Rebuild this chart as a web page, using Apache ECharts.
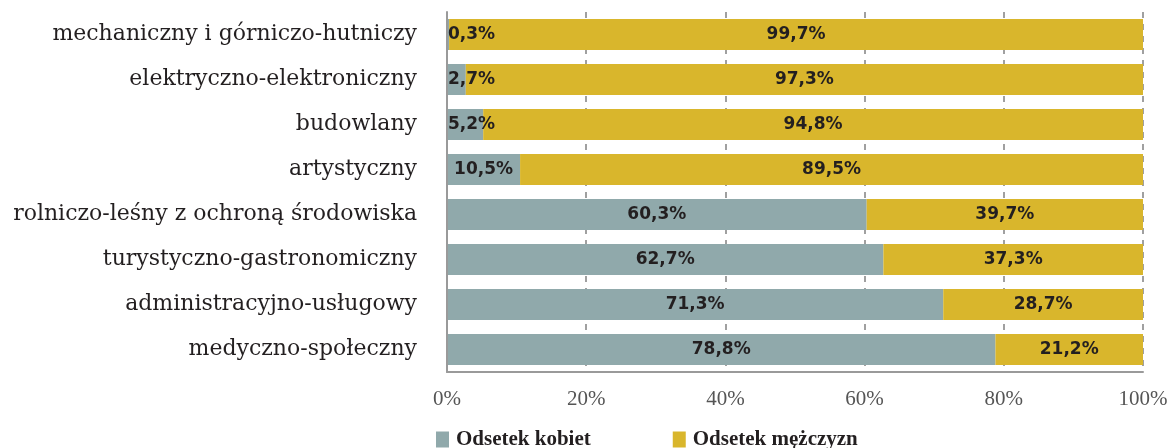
<!DOCTYPE html>
<html>
<head>
<meta charset="utf-8">
<script src="https://cdn.jsdelivr.net/npm/echarts@6/dist/echarts.min.js"></script>
<style>
  html, body { margin: 0; padding: 0; background: #fff; }
  #chart { width: 1175px; height: 448px; }
</style>
</head>
<body>
<div id="chart"></div>
<script>
// categories, top to bottom
const categories = [
  'mechaniczny i górniczo-hutniczy',
  'elektryczno-elektroniczny',
  'budowlany',
  'artystyczny',
  'rolniczo-leśny z ochroną środowiska',
  'turystyczno-gastronomiczny',
  'administracyjno-usługowy',
  'medyczno-społeczny'
];
const women = [0.3, 2.7, 5.2, 10.5, 60.3, 62.7, 71.3, 78.8];
const men = [99.7, 97.3, 94.8, 89.5, 39.7, 37.3, 28.7, 21.2];
const seriesNames = ['Odsetek kobiet', 'Odsetek mężczyzn'];

const colWomen = '#90a9ab';
const colMen = '#d9b62c';
const textDark = '#231f20';

const fmt = v => v.toFixed(1).replace('.', ',') + '%';

const labelBase = {
  show: true,
  color: textDark,
  fontFamily: 'DejaVu Sans',
  fontWeight: 'bold',
  fontSize: 17,
  formatter: p => fmt(p.value)
};

// small shares get their label pinned to the left edge
const womenData = women.map(v => v < 10
  ? { value: v, label: { position: 'insideLeft', distance: 1 } }
  : { value: v });

const chart = echarts.init(document.getElementById('chart'), null, { renderer: 'canvas' });

chart.setOption({
  animation: false,
  grid: { left: 447, right: 32, top: 12, bottom: 76 },
  xAxis: {
    type: 'value',
    min: 0,
    max: 100,
    interval: 20,
    axisLine: { show: true, lineStyle: { color: '#9a9a9a', width: 2 } },
    axisTick: { show: false },
    axisLabel: {
      formatter: v => v + '%',
      color: '#555',
      fontFamily: 'Liberation Serif',
      fontSize: 21,
      margin: 17
    },
    splitLine: { lineStyle: { color: '#a0a0a0', width: 2, type: [6, 6] } }
  },
  yAxis: {
    type: 'category',
    data: categories,
    inverse: true,
    z: 5,
    axisLine: { lineStyle: { color: '#9a9a9a', width: 2 } },
    axisTick: { show: false },
    axisLabel: {
      color: textDark,
      fontFamily: 'DejaVu Serif',
      fontSize: 22,
      margin: 30
    }
  },
  legend: {
    data: seriesNames,
    left: 436,
    top: 429,
    padding: 0,
    itemGap: 82,
    itemWidth: 13,
    itemHeight: 16,
    icon: 'rect',
    textStyle: {
      color: textDark,
      fontFamily: 'Liberation Serif',
      fontWeight: 'bold',
      fontSize: 21,
      padding: [0, 0, 0, 2]
    }
  },
  series: [
    {
      name: seriesNames[0],
      type: 'bar',
      stack: 'total',
      barCategoryGap: '31%',
      itemStyle: { color: colWomen },
      label: Object.assign({ position: 'inside' }, labelBase),
      data: womenData
    },
    {
      name: seriesNames[1],
      type: 'bar',
      stack: 'total',
      barCategoryGap: '31%',
      itemStyle: { color: colMen },
      label: Object.assign({ position: 'inside' }, labelBase),
      data: men
    }
  ]
});
</script>
</body>
</html>
